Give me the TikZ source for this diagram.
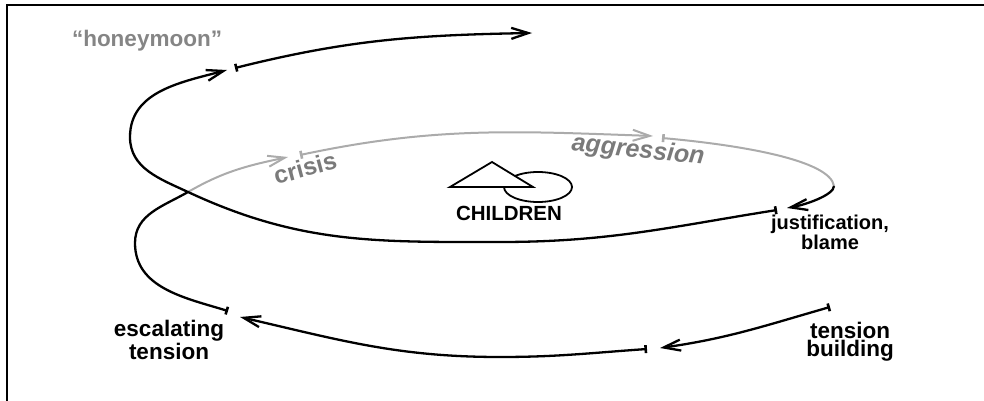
\documentclass[tikz,border=0pt]{standalone}
\usepackage{fontspec}
\setmainfont{Liberation Sans}
\usetikzlibrary{arrows.meta}
\definecolor{linegray}{HTML}{ABABAB}
\definecolor{labelgray}{HTML}{858585}
\definecolor{textgray}{HTML}{7A7A7A}
\begin{document}
\begin{tikzpicture}[x=1pt,y=1pt,
  blk/.style={line width=2.3pt, draw=black},
  gry/.style={line width=2pt, draw=linegray},
  tailtip/.style={{Bar[width=8pt,line width=2.6pt]}-{Straight Barb[length=17pt,width=11pt]}},
  tailonly/.style={{Bar[width=8pt,line width=2.6pt]}-},
  tiponly/.style={-{Straight Barb[length=17pt,width=11pt]}},
  lbl/.style={font=\bfseries\fontsize{22.5}{18}\selectfont, align=center, anchor=base, inner sep=0pt},
  lbls/.style={font=\bfseries\fontsize{20}{17}\selectfont, align=center, anchor=base, inner sep=0pt},
  persp/.style={text=textgray, inner sep=0pt},
]
\useasboundingbox (0,0) rectangle (984,-401);
% frame
\coordinate (fbl) at (7,-401);
\coordinate (ftl) at (7,-5);
\coordinate (ftr) at (984,-5);
\draw[line width=2.5pt] (fbl) -- (ftl) -- (ftr);

% spiral points
\coordinate (tb) at (830,-307);
\coordinate (tbA) at (660,-348);
\coordinate (e1) at (647,-349);
\coordinate (b1) at (500,-357);
\coordinate (esA) at (240,-317);
\coordinate (es) at (228,-311);
\coordinate (l1) at (135,-243);
\coordinate (x) at (188,-192);
\coordinate (crA) at (288,-157);
\coordinate (cr) at (300,-155);
\coordinate (agA) at (653,-136);
\coordinate (ag) at (662,-138);
\coordinate (r1) at (834,-186);
\coordinate (juA) at (787,-208);
\coordinate (ju) at (777,-210);
\coordinate (m1) at (500,-242);
\coordinate (l2) at (130,-137);
\coordinate (hmA) at (227,-70);
\coordinate (hm) at (235,-68);
\coordinate (fin) at (532,-33);

% back (gray) part
\draw[gry, tiponly] (x) to[out=30,in=192] (crA);
\draw[gry, tailtip] (cr) to[out=12,in=178] (agA);
\draw[gry, tailonly] (ag) .. controls (740,-145) and (830,-160) .. (r1);

% front (black) part
\draw[blk, tailtip] (tb) to[out=196,in=8] (tbA);
\draw[blk, tailtip] (e1) to[out=184,in=0] (b1) to[out=180,in=-13] (esA);
\draw[blk, tailonly] (es) to[out=163,in=-90] (l1) to[out=90,in=210] (x);
\draw[blk, tiponly] (r1) .. controls (834,-195) and (805,-205) .. (juA);
\draw[blk, tailtip] (ju) to[out=189,in=0] (m1) to[out=180,in=-25] (x) to[out=155,in=-90] (l2) to[out=90,in=195] (hmA);
\draw[blk, tailtip] (hm) to[out=14,in=181] (fin);

% children symbol
\draw[line width=1.8pt] (538,-187) ellipse [x radius=34, y radius=15];
\draw[line width=1.8pt, fill=white, line join=miter] (492,-162) -- (533,-187) -- (450,-187) -- cycle;

% labels (base anchor = baseline of the last line)
\node[lbl, text=labelgray] (honey) at (147,-47) {“honeymoon”};
\node[lbl] (esc) at (169,-359) {escalating\\tension};
\node[lbl] (tens) at (850,-356) {tension\\building};
\node[lbls] (just) at (830,-249) {justification,\\blame};
\node[font=\bfseries\fontsize{20.5}{20}\selectfont, anchor=base, inner sep=0pt] (child) at (509,-220) {CHILDREN};
\node[persp, rotate=15, font=\bfseries\fontsize{24.5}{24}\selectfont] (crisis) at (305,-168) {crisis};
\node[persp, rotate=-6, font=\bfseries\itshape\fontsize{25}{25}\selectfont] (aggr) at (638,-151) {aggression};
\end{tikzpicture}
\end{document}
